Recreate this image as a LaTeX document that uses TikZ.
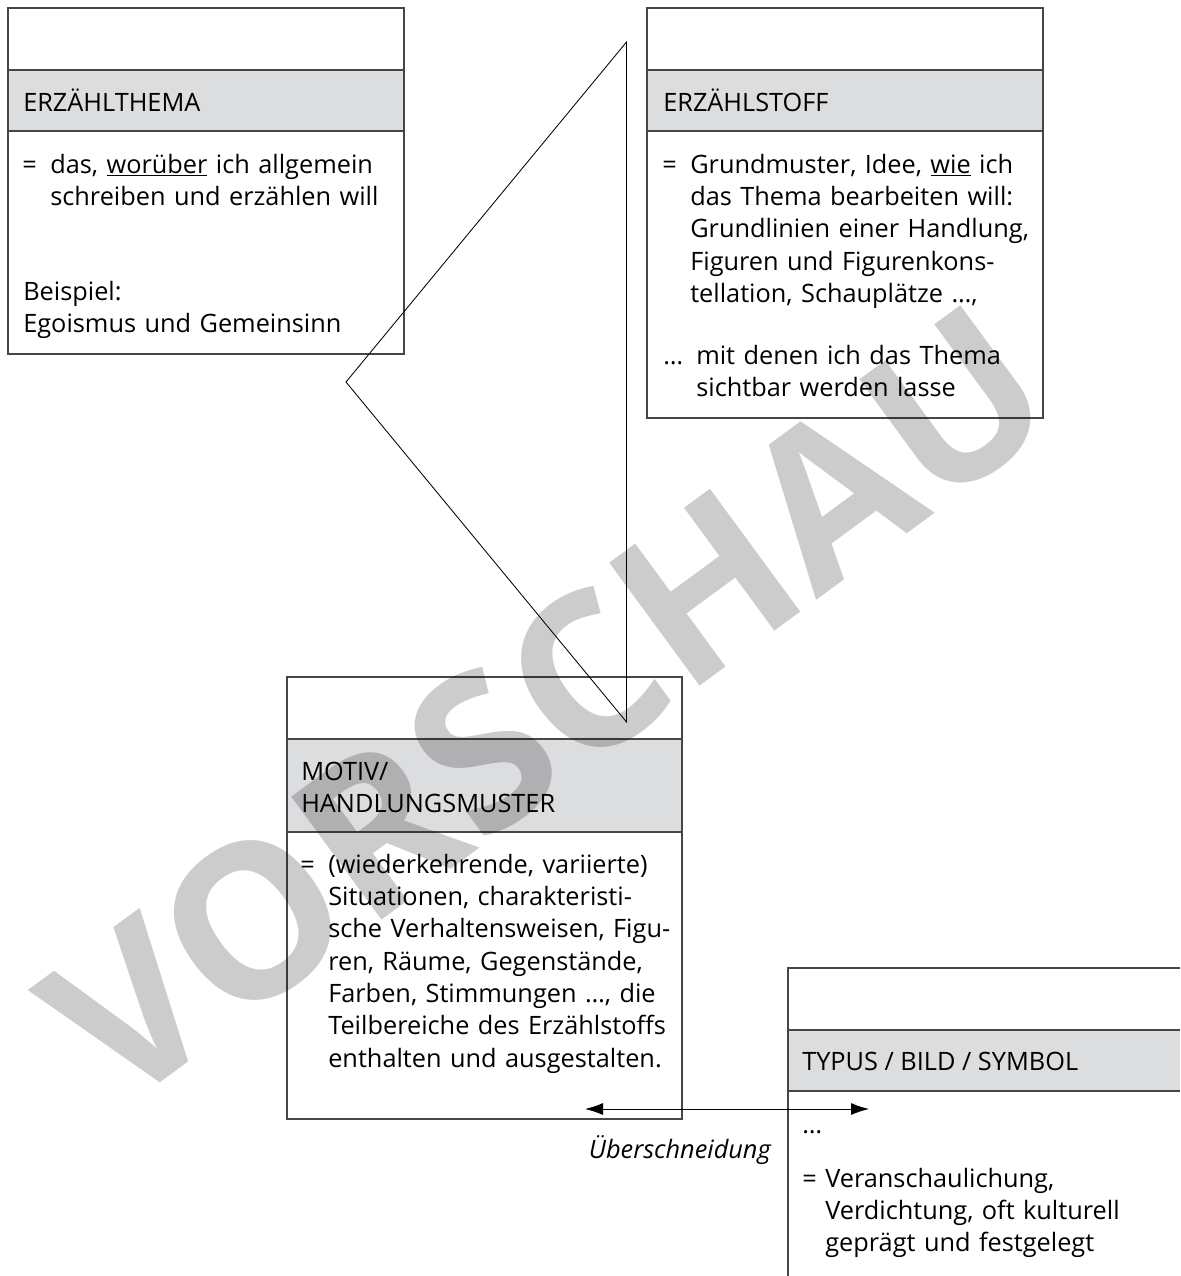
\documentclass[tikz,border=0pt]{standalone}
\usepackage{fontspec}
\setmainfont{Open Sans}
\usepackage{tikz}
\usetikzlibrary{arrows.meta}
\definecolor{bandgray}{RGB}{220,221,223}
\definecolor{rulegray}{RGB}{70,70,70}

\tikzset{
  frame/.style={draw=rulegray,line width=0.9pt},
  txt/.style={anchor=base west,inner sep=0pt,align=left,
    font=\fontsize{18}{23}\selectfont},
  para/.style={txt,text width=#1},
  overlap/.style={{Latex[length=4.5mm,width=3mm]}-{Latex[length=4.5mm,width=3mm]},line width=0.6pt}
}

\begin{document}
\begin{tikzpicture}[x=0.025cm,y=-0.025cm]
\useasboundingbox (0,0) rectangle (1180,1276);

% Erzaehlthema
\fill[bandgray] (8,70) rectangle (404,131);
\draw[frame] (8,8) rectangle (404,354);
\draw[frame] (8,70) -- (404,70) (8,131) -- (404,131);
\node[txt] (thema) at (23,111) {ERZÄHLTHEMA};
\node[txt] (themaeq) at (22,173) {=};
\node[para=8.6cm] (themadef) at (50,173) {das, \underline{worüber} ich allgemein\\schreiben und erzählen will};
\node[para=8.6cm] (themabsp) at (23,300) {Beispiel:\\Egoismus und Gemeinsinn};

% Erzaehlstoff
\fill[bandgray] (647,70) rectangle (1043,131);
\draw[frame] (647,8) rectangle (1043,418);
\draw[frame] (647,70) -- (1043,70) (647,131) -- (1043,131);
\node[txt] (stoff) at (663,111) {ERZÄHLSTOFF};
\node[txt] (stoffeq) at (662,173) {=};
\node[para=8.7cm] (stoffdef) at (690,173) {Grundmuster, Idee, \underline{wie} ich\\das Thema bearbeiten will:\\Grundlinien einer Handlung,\\Figuren und Figurenkons-\\tellation, Schauplätze \dots,};
\node[txt] (stoffdots) at (663,364) {\dots};
\node[para=8.5cm] (stoffmit) at (696,364) {mit denen ich das Thema\\sichtbar werden lasse};

% Motiv / Handlungsmuster
\fill[bandgray] (287,739) rectangle (682,832);
\draw[frame] (287,677) rectangle (682,1119);
\draw[frame] (287,739) -- (682,739) (287,832) -- (682,832);
\node[para=9.3cm] (motiv) at (301,780) {MOTIV/\\HANDLUNGSMUSTER};
\node[txt] (motiveq) at (300,873) {=};
\node[para=8.7cm] (motivdef) at (328,873) {(wiederkehrende, variierte)\\Situationen, charakteristi-\\sche Verhaltensweisen, Figu-\\ren, Räume, Gegenstände,\\Farben, Stimmungen \dots, die\\Teilbereiche des Erzählstoffs\\enthalten und ausgestalten.};

% Typus / Bild / Symbol
\fill[bandgray] (788,1030) rectangle (1180,1091);
\draw[frame] (1180,968) -- (788,968) -- (788,1276);
\draw[frame] (788,1030) -- (1180,1030) (788,1091) -- (1180,1091);
\node[txt] (typus) at (802,1070) {TYPUS / BILD / SYMBOL};
\node[txt] (typusdots) at (802,1133) {\dots};
\node[txt] (typuseq) at (802,1187) {=};
\node[para=8.7cm] (typusdef) at (825,1187) {Veranschaulichung,\\Verdichtung, oft kulturell\\geprägt und festgelegt};

% Dreieck
\draw[line width=0.6pt] (626.5,42) -- (346,382) -- (626.5,722) -- cycle;

% Ueberschneidung
\coordinate (ovl) at (585,1109);
\coordinate (ovr) at (869,1109);
\draw[overlap] (ovl) -- (ovr);
\node[txt,anchor=base east,font=\fontsize{18}{23}\selectfont\itshape] (ueber) at (771,1158) {Überschneidung};

% Wasserzeichen
\node[rotate=36.3,opacity=0.2,font=\fontsize{152}{152}\selectfont\bfseries] (vorschau) at (547,704) {VORSCHAU};
\end{tikzpicture}
\end{document}
